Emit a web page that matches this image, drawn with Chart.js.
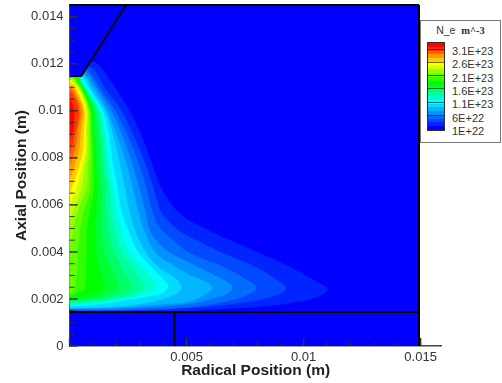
<!DOCTYPE html>
<html>
<head>
<meta charset="utf-8">
<script src="https://cdn.jsdelivr.net/npm/chart.js@4"></script>
<style>
html,body{margin:0;padding:0;background:#fff;width:502px;height:383px;overflow:hidden}
#wrap{position:relative;width:502px;height:383px;filter:blur(0.45px)}
canvas{position:absolute;left:0;top:0}
#legend{position:absolute;left:420px;top:20px;width:79px;height:121px;border:1px solid #777;background:#fff;font-family:"Liberation Sans",Arial,sans-serif;color:#333}
#ltitle{position:absolute;left:0;width:79px;top:3px;text-align:center;font-size:10.5px;white-space:pre}
#ltitle b{font-family:"Liberation Serif",serif;font-size:10.5px}
#lbar{position:absolute;left:6px;top:21px;width:16px;height:87px;border:1px solid #333;display:flex;flex-direction:column}
#lbar div{flex:1}
.lsep{position:absolute;left:6px;width:17px;height:1px;background:rgba(0,0,0,.55)}
.llab{position:absolute;left:31px;font-size:11px;line-height:12px}
</style>
</head>
<body>
<div id="wrap">
<canvas id="c" width="502" height="383"></canvas>
<div id="legend"><div id="ltitle">N_e  <b>m^-3</b></div><div id="lbar"></div></div>
</div>
<script>
// Legend
const legendLabels = ["3.1E+23","2.6E+23","2.1E+23","1.6E+23","1.1E+23","6E+22","1E+22"];
// Axis ticks (m)
const xMajorTicks = [0,0.005,0.01,0.015];
const xLabelled = [0.005,0.01,0.015];
const xMinorTicks = [0.001,0.002,0.003,0.004,0.006,0.007,0.008,0.009,0.011,0.012,0.013,0.014];
const yMajorTicks = [0,0.002,0.004,0.006,0.008,0.01,0.012,0.014];
const yMinorTicks = [0.0005,0.001,0.0015,0.0025,0.003,0.0035,0.0045,0.005,0.0055,0.0065,0.007,0.0075,0.0085,0.009,0.0095,0.0105,0.011,0.0115,0.0125,0.013,0.0135];
// Band colours, lowest to highest level
const baseColor = "#0000ff";
const levelColors = ["#0024ff","#0049ff","#006dff","#0092ff","#00b6ff","#00dbff","#00ffff","#00ffcc","#00ff99","#00ff66","#00ff33","#00ff00","#33ff00","#66ff00","#99ff00","#ccff00","#ffff00","#ffcc00","#ff9900","#ff6600","#ff3300","#ff0000"];
// Domain outline [radial, axial] in mm
const domain = [[0,0],[14.93,0],[14.93,14.5],[0,14.5]];
const cathode = [[0,11.48],[0.5,11.48],[2.41,14.5],[0,14.5]];
const lowerBlock = [[0,0],[14.93,0],[14.93,1.45],[0,1.45]];
const wallTop = [[0,14.5],[14.93,14.5]];
const wallRight = [[14.93,14.5],[14.93,0]];
const wallFloor = [[0,1.45],[14.93,1.45]];
const wallStep = [[4.48,1.45],[4.48,0]];
const wallCathode = [[0,11.48],[0.5,11.48],[2.41,14.5]];
// Contours [radial, axial] in mm, one per level
const c1=[[0,12.1],[0.95,12.1],[1.25,11.95],[1.73,11.31],[2.29,10.46],[2.55,10.04],[2.97,9.18],[3.31,8.33],[3.61,7.48],[3.97,6.63],[4.38,5.99],[4.85,5.53],[5.41,5.19],[5.88,4.95],[6.56,4.62],[8.02,4.00],[9.43,3.36],[10.59,2.72],[11.01,2.42],[10.59,2.08],[9.43,1.83],[8.02,1.66],[6.56,1.57],[5.15,1.49],[2.58,1.47],[0,1.47]];
const c2=[[0,11.9],[0.75,11.9],[1.04,11.74],[1.56,10.89],[2.20,10.04],[2.63,9.18],[3.01,8.33],[3.33,7.48],[3.61,6.63],[3.88,5.78],[4.30,5.23],[4.85,4.80],[5.41,4.51],[6.56,3.95],[8.02,3.32],[8.87,2.81],[9.26,2.48],[8.87,2.17],[7.29,1.83],[5.15,1.62],[2.58,1.51],[0,1.49]];
const c3=[[0,11.8],[0.62,11.8],[0.87,11.65],[1.34,10.89],[1.94,10.04],[2.37,9.18],[2.74,8.33],[3.05,7.48],[3.30,6.63],[3.52,5.78],[3.83,5.06],[4.42,4.51],[5.15,3.95],[6.56,3.36],[7.59,2.81],[7.98,2.48],[7.59,2.17],[6.56,1.87],[5.15,1.66],[2.58,1.53],[0,1.52]];
const c4=[[0,11.7],[0.55,11.7],[0.79,11.57],[1.22,10.89],[1.77,10.04],[2.16,9.18],[2.48,8.33],[2.76,7.48],[3.00,6.63],[3.22,5.78],[3.48,4.80],[4.13,4.08],[5.15,3.53],[6.01,3.10],[6.65,2.78],[6.95,2.48],[6.65,2.20],[6.01,2.00],[5.15,1.80],[2.58,1.59],[0,1.55]];
const c5=[[0,11.6],[0.55,11.6],[0.70,11.48],[1.09,10.89],[1.60,10.04],[1.94,9.18],[2.24,8.33],[2.50,7.48],[2.72,6.63],[2.92,5.78],[3.18,4.93],[3.70,3.95],[4.42,3.44],[5.15,3.02],[5.79,2.75],[6.09,2.48],[5.80,2.20],[5.15,1.90],[4.00,1.77],[2.71,1.66],[0,1.57]];
const c6=[[0,11.55],[0.55,11.55],[0.96,10.89],[1.50,10.04],[1.80,9.18],[2.02,8.33],[2.20,7.48],[2.38,6.63],[2.55,5.78],[2.84,4.80],[3.40,3.78],[3.95,3.25],[4.50,2.90],[4.77,2.51],[4.50,2.20],[3.80,1.95],[2.71,1.74],[1.30,1.64],[0,1.62]];
const c7=[[0,11.55],[0.5,11.55],[0.62,11.31],[0.87,10.89],[1.39,10.04],[1.64,9.18],[1.77,8.33],[1.90,7.48],[2.07,6.63],[2.20,5.78],[2.50,4.93],[2.88,4.08],[3.61,3.23],[4.00,2.85],[4.21,2.55],[4.00,2.28],[3.40,2.12],[2.58,1.98],[1.30,1.79],[0,1.68]];
const c8=[[0,11.55],[0.45,11.55],[0.57,11.22],[0.79,10.89],[1.30,10.04],[1.51,9.18],[1.64,8.33],[1.75,7.48],[1.90,6.63],[1.99,5.78],[2.20,4.93],[2.54,4.08],[3.23,3.23],[3.55,2.85],[3.72,2.52],[3.50,2.27],[2.90,2.10],[2.10,1.95],[1.30,1.83],[0,1.74]];
const c9=[[0,11.55],[0.42,11.55],[0.53,11.18],[0.74,10.89],[1.22,10.04],[1.39,9.18],[1.49,8.33],[1.58,7.48],[1.72,6.63],[1.77,5.78],[1.93,4.93],[2.20,4.08],[2.76,3.23],[3.02,2.85],[3.18,2.52],[3.00,2.30],[2.40,2.12],[1.30,1.91],[0,1.81]];
const c10=[[0,11.55],[0.40,11.55],[0.49,11.14],[0.70,10.89],[1.15,10.04],[1.30,9.18],[1.39,8.33],[1.45,7.48],[1.56,6.63],[1.56,5.78],[1.66,4.93],[1.86,4.08],[2.29,3.23],[2.50,2.85],[2.63,2.52],[2.48,2.32],[1.90,2.12],[1.09,1.96],[0,1.87]];
const c11=[[0,11.5],[0.36,11.5],[0.45,11.18],[0.66,10.89],[1.07,10.04],[1.17,9.18],[1.26,8.33],[1.30,7.48],[1.38,6.63],[1.36,5.78],[1.39,4.93],[1.47,4.08],[1.81,3.23],[1.98,2.85],[2.07,2.52],[1.90,2.32],[1.45,2.15],[0.87,2.02],[0,1.93]];
const c12=[[0,11.44],[0.32,11.44],[0.40,11.22],[0.62,10.89],[1.00,10.04],[1.04,9.18],[1.10,8.33],[1.15,7.48],[1.18,6.63],[1.15,5.78],[1.10,4.93],[1.13,4.08],[1.30,3.23],[1.42,2.85],[1.47,2.52],[1.32,2.32],[1.00,2.20],[0.66,2.12],[0,2.02]];
const c13=[[0,11.42],[0.25,11.42],[0.36,11.22],[0.57,10.89],[0.90,10.04],[0.96,9.18],[1.00,8.33],[1.02,7.48],[1.02,6.63],[0.87,5.78],[0.74,4.93],[0.74,4.08],[0.70,3.23],[0.66,2.51],[0.45,2.30],[0,2.13]];
const c14=[[0,11.40],[0.2,11.40],[0.32,11.18],[0.53,10.89],[0.85,10.04],[0.89,9.18],[0.92,8.33],[0.90,7.48],[0.87,6.63],[0.62,5.78],[0.45,4.93],[0.36,4.08],[0.32,3.23],[0.23,2.51],[0.10,2.25],[0,2.21]];
const c15=[[0,11.37],[0.15,11.35],[0.27,11.18],[0.49,10.89],[0.80,10.04],[0.83,9.18],[0.84,8.33],[0.78,7.48],[0.70,6.63],[0.36,5.78],[0.15,4.93],[0.02,4.08],[0,3.90]];
const c16=[[0,11.33],[0.1,11.31],[0.23,11.18],[0.45,10.89],[0.76,10.04],[0.74,9.18],[0.76,8.33],[0.62,7.48],[0.49,6.63],[0.16,5.78],[0,5.27]];
const c17=[[0,11.29],[0.06,11.29],[0.19,11.14],[0.40,10.89],[0.70,10.04],[0.68,9.18],[0.68,8.33],[0.49,7.48],[0.27,6.63],[0,6.00]];
const c18=[[0,11.22],[0.19,11.10],[0.32,10.89],[0.64,10.04],[0.62,9.18],[0.57,8.33],[0.36,7.48],[0.06,6.63],[0,6.42]];
const c19=[[0,11.10],[0.10,11.03],[0.23,10.89],[0.57,10.04],[0.49,9.18],[0.40,8.33],[0.15,7.48],[0,7.06]];
const c20=[[0,11.01],[0.15,10.89],[0.47,10.04],[0.36,9.18],[0.23,8.33],[0,7.70]];
const c21=[[0,10.84],[0.10,10.76],[0.38,10.04],[0.27,9.18],[0.08,8.40],[0,8.12]];
const c22=[[0,10.50],[0.10,10.33],[0.19,10.00],[0.19,9.60],[0.15,9.18],[0,8.76]];
const contours=[c1,c2,c3,c4,c5,c6,c7,c8,c9,c10,c11,c12,c13,c14,c15,c16,c17,c18,c19,c20,c21,c22];

const pts = a => a.map(([x,y]) => ({x:x/1000,y:y/1000}));
const base = {showLine:true,pointRadius:0,pointHoverRadius:0,borderWidth:0,clip:false};
const area = (arr,color,o) => ({...base,data:pts(arr),fill:'shape',backgroundColor:color,borderColor:color,order:o});
const wall = (arr,o) => ({...base,data:pts(arr),fill:false,borderColor:'#000',borderWidth:2,order:o});

const datasets = [
  area(domain,baseColor,100),
  ...contours.map((c,i)=>({...area(c,levelColors[i],99-i),tension:0.4})),
  area(cathode,baseColor,50),
  area(lowerBlock,baseColor,49),
  wall(wallTop,5),wall(wallRight,4),wall(wallFloor,3),wall(wallStep,2),wall(wallCathode,1)
];

const labelFont = {family:'"Liberation Sans",Arial,sans-serif',size:13};
const titleFont = {family:'"Liberation Sans",Arial,sans-serif',size:15.5,weight:'bold'};

const innerTicks = {
  id:'innerTicks',
  afterDatasetsDraw(chart){
    const {ctx,scales:{x,y}} = chart;
    ctx.save();
    ctx.strokeStyle='#333';
    const bottom = y.getPixelForValue(0), left = x.getPixelForValue(0);
    x.ticks.forEach(t=>{
      const major = xMajorTicks.includes(t.value);
      const px = x.getPixelForValue(t.value);
      ctx.lineWidth = major?1.5:1;
      ctx.beginPath();ctx.moveTo(px,bottom);ctx.lineTo(px,bottom-(major?8:4));ctx.stroke();
    });
    y.ticks.forEach(t=>{
      const major = yMajorTicks.includes(t.value);
      const py = y.getPixelForValue(t.value);
      ctx.lineWidth = major?1.5:1;
      ctx.beginPath();ctx.moveTo(left,py);ctx.lineTo(left+(major?8:5),py);ctx.stroke();
    });
    ctx.restore();
  }
};

new Chart(document.getElementById('c'),{
  type:'scatter',
  data:{datasets},
  plugins:[innerTicks],
  options:{
    responsive:false,animation:false,events:[],
    layout:{padding:{top:5,right:60.3,left:0,bottom:0}},
    plugins:{legend:{display:false},tooltip:{enabled:false},filler:{drawTime:'beforeDatasetDraw'}},
    scales:{
      x:{type:'linear',min:0,max:0.0159,
        grid:{display:false,drawTicks:false},
        border:{display:true,color:'#444',width:1.5},
        afterFit(s){s.height=37;s.paddingLeft=0;s.paddingRight=0;},
        afterBuildTicks(s){s.ticks=[...xMajorTicks,...xMinorTicks].sort((a,b)=>a-b).map(v=>({value:v}));},
        ticks:{autoSkip:false,maxRotation:0,color:'#333',font:labelFont,padding:4,
          callback:v=>xLabelled.includes(v)?String(v):''},
        title:{display:true,text:'Radical Position (m)',color:'#222',font:titleFont,padding:{top:0,bottom:3}}
      },
      y:{type:'linear',min:0,max:0.0145,
        grid:{display:false,drawTicks:false},
        border:{display:true,color:'#555',width:2},
        afterFit(s){s.width=69.6;s.paddingTop=0;s.paddingBottom=0;},
        afterBuildTicks(s){s.ticks=[...yMajorTicks,...yMinorTicks].sort((a,b)=>a-b).map(v=>({value:v}));},
        ticks:{autoSkip:false,color:'#333',font:labelFont,padding:6,
          callback:v=>yMajorTicks.includes(v)?String(v):''},
        title:{display:true,text:'Axial Position (m)',color:'#222',font:titleFont,padding:{top:12,bottom:0}}
      }
    }
  }
});

// Legend colour bar built from the same level colours
const lbar=document.getElementById('lbar');
const lg=document.getElementById('legend');
[baseColor,...levelColors].reverse().forEach(c=>{const d=document.createElement('div');d.style.background=c;lbar.appendChild(d);});
legendLabels.forEach((t,i)=>{
  const l=document.createElement('div');l.className='llab';l.textContent=t;l.style.top=(24+i*13.3)+'px';lg.appendChild(l);
  if(i<6){const s=document.createElement('div');s.className='lsep';s.style.top=(27.5+i*13.3)+'px';lg.appendChild(s);}
});
</script>
</body>
</html>
